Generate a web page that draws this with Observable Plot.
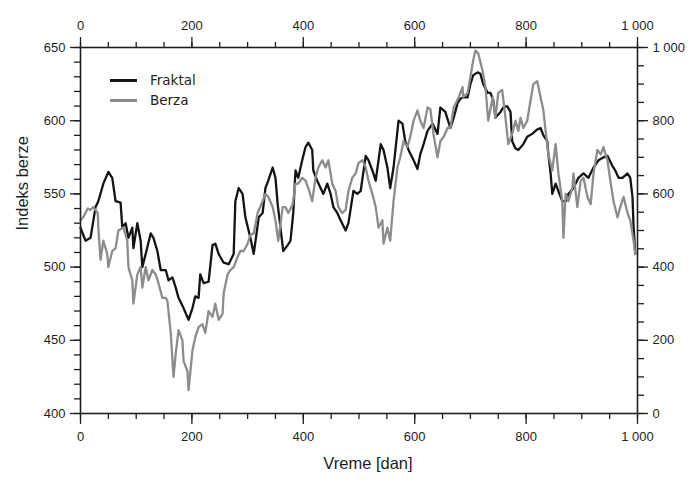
<!DOCTYPE html>
<html>
<head>
<meta charset="utf-8">
<script src="https://cdn.jsdelivr.net/npm/d3@7"></script>
<script src="https://cdn.jsdelivr.net/npm/@observablehq/plot@0.6"></script>
<style>
  html, body { margin: 0; padding: 0; background: #fff; }
  #wrap { position: relative; width: 695px; height: 481px; }
  #legend { position: absolute; left: 110px; top: 70px; font-family: "DejaVu Sans", sans-serif; font-size: 13.5px; color: #222; }
  #legend .row { display: flex; align-items: center; height: 20px; }
  #legend .sw { width: 27px; height: 3px; margin-right: 13px; }
</style>
</head>
<body>
<div id="wrap"></div>
<script>
// ---- data ----
const seriesNames = ["Fraktal", "Berza"];
const seriesColors = ["#141414", "#8c8c8c"];

const fraktalDays = [0,9,18,27,32,41,50,57,63,72,75,81,86,93,95,102,108,111,117,126,131,138,144,153,158,165,171,176,185,194,201,206,212,215,221,230,237,242,248,257,266,275,278,284,291,296,305,311,320,327,332,337,345,350,354,359,364,372,377,382,386,391,398,404,409,416,418,425,431,436,443,449,454,461,467,476,481,490,497,503,512,517,524,530,539,544,551,556,562,571,578,583,589,598,605,610,616,623,632,641,646,655,664,670,677,682,687,695,700,705,713,718,723,731,736,741,745,754,759,766,772,775,781,786,795,802,811,820,826,831,838,840,844,847,853,858,865,871,876,885,894,903,912,921,930,939,946,955,960,966,973,982,987,991,993,996];
const fraktalValues = [527,518,520,541,545,557,565,561,545,544,527,530,520,527,513,530,518,500,509,523,520,511,498,498,491,493,486,479,472,464,472,480,479,495,489,490,515,516,509,503,502,509,545,554,550,534,520,509,534,537,554,559,568,561,543,527,511,515,518,537,566,561,573,582,585,580,566,559,554,550,557,550,541,537,532,525,530,552,550,552,576,573,566,559,584,580,568,554,568,600,598,586,580,573,567,577,584,593,598,591,609,606,595,602,612,615,616,616,625,631,633,632,625,619,619,614,602,606,609,610,606,586,581,580,584,589,591,594,595,590,586,577,564,550,557,552,545,545,550,554,561,564,561,568,573,575,576,569,566,561,561,564,561,548,527,509];

const berzaDays = [0,5,13,18,23,31,32,36,41,48,50,57,63,68,77,84,86,93,95,102,108,111,117,122,129,135,140,147,153,156,162,167,171,176,183,185,192,194,201,206,212,219,224,230,237,242,248,255,257,264,269,275,282,287,293,300,305,311,318,327,332,337,345,350,355,363,368,373,381,386,391,398,404,409,416,422,427,434,440,445,452,458,463,470,476,481,488,494,499,506,512,517,524,530,535,542,544,551,556,562,569,574,580,587,592,598,605,610,616,623,628,634,641,646,652,659,664,670,679,686,687,695,700,705,709,714,722,727,732,740,745,750,757,763,768,775,781,786,790,795,802,808,813,820,826,831,835,840,847,853,858,865,867,871,876,883,885,892,898,903,910,916,921,928,934,939,946,952,957,964,969,975,982,987,993,996];
const berzaValues = [532,534,540,539,541,537,527,505,518,509,500,511,513,525,527,518,500,491,475,495,500,486,500,491,498,495,489,479,479,477,455,425,441,457,450,436,429,416,443,452,459,461,455,470,466,475,464,468,482,495,498,500,507,511,511,516,522,523,537,545,550,548,541,532,518,541,541,537,543,557,557,561,559,554,545,561,568,573,568,573,557,552,541,537,539,552,561,564,571,573,568,559,550,541,527,532,516,527,518,545,568,575,586,582,589,600,607,600,595,609,608,590,575,586,589,595,595,609,616,623,616,619,630,641,648,646,634,623,600,616,602,619,621,602,584,591,600,593,602,595,600,614,625,627,616,607,593,577,566,584,564,545,520,550,545,554,564,541,559,561,548,543,564,580,577,582,573,557,545,534,541,548,537,532,518,509];

const xMajorTicks = [0,200,400,600,800,1000];
const xMinorTicks = d3.range(0, 1001, 50);
const yLeftMajorTicks = [400,450,500,550,600,650];
const yLeftMinorTicks = d3.range(400, 651, 10);
const yRightMajorTicks = [0,200,400,600,800,1000];
const yRightMinorTicks = d3.range(0, 1001, 50);
const yRightDomain = [0, 1000];
const yLeftDomain = [400, 650];

// ---- build tables ----
const fraktal = fraktalDays.map((d, i) => ({day: d, value: fraktalValues[i]}));
const berza = berzaDays.map((d, i) => ({day: d, value: berzaValues[i]}));

const fmt = d3.formatLocale({decimal: ",", thousands: "\u00a0", grouping: [3], currency: ["", ""]}).format(",");
// map right-axis values into left-axis units
const toLeft = r => yLeftDomain[0] + (r - yRightDomain[0]) * (yLeftDomain[1] - yLeftDomain[0]) / (yRightDomain[1] - yRightDomain[0]);
const toRight = v => yRightDomain[0] + (v - yLeftDomain[0]) * (yRightDomain[1] - yRightDomain[0]) / (yLeftDomain[1] - yLeftDomain[0]);

const ink = "#1e1e1e";
const chart = Plot.plot({
  width: 695,
  height: 481,
  marginLeft: 80,
  marginRight: 58,
  marginTop: 47,
  marginBottom: 68,
  x: {domain: [0, 1000]},
  y: {domain: yLeftDomain},
  style: {fontFamily: "'Liberation Sans', Arial, sans-serif", fontSize: "13px", color: ink, background: "white"},
  marks: [
    Plot.axisX({anchor: "bottom", ticks: xMinorTicks, tickSize: 6, tickFormat: () => "", label: null, stroke: ink, strokeWidth: 1.3}),
    Plot.axisX({anchor: "bottom", ticks: xMajorTicks, tickSize: 11, tickPadding: 7, tickFormat: fmt, label: null, stroke: ink, strokeWidth: 1.3, fontSize: 13}),
    Plot.axisX({anchor: "top", ticks: xMinorTicks, tickSize: 6, tickFormat: () => "", label: null, stroke: ink, strokeWidth: 1.3}),
    Plot.axisX({anchor: "top", ticks: xMajorTicks, tickSize: 11, tickPadding: 7, tickFormat: fmt, label: null, stroke: ink, strokeWidth: 1.3, fontSize: 13}),
    Plot.axisY({anchor: "left", ticks: yLeftMinorTicks, tickSize: 6, tickFormat: () => "", label: null, stroke: ink, strokeWidth: 1.3}),
    Plot.axisY({anchor: "left", ticks: yLeftMajorTicks, tickSize: 10, tickPadding: 5, tickFormat: d => fmt(d), label: null, stroke: ink, strokeWidth: 1.3, fontSize: 13}),
    Plot.axisY({anchor: "right", ticks: yRightMinorTicks.map(toLeft), tickSize: 6, tickFormat: () => "", label: null, stroke: ink, strokeWidth: 1.3}),
    Plot.axisY({anchor: "right", ticks: yRightMajorTicks.map(toLeft), tickSize: 10, tickPadding: 5, tickFormat: v => fmt(Math.round(toRight(v))), label: null, stroke: ink, strokeWidth: 1.3, fontSize: 13}),
    Plot.line(fraktal, {x: "day", y: "value", stroke: seriesColors[0], strokeWidth: 2.3}),
    Plot.line(berza, {x: "day", y: "value", stroke: seriesColors[1], strokeWidth: 2.3}),
    Plot.frame({stroke: ink, strokeWidth: 1.6}),
    Plot.text(["Indeks berze"], {frameAnchor: "left", dx: -58, rotate: -90, fontSize: 16.5, fill: ink}),
    Plot.text(["Vreme [dan]"], {frameAnchor: "bottom", dx: 9, dy: 55, fontSize: 16.5, fill: ink})
  ]
});

const wrap = document.getElementById("wrap");
wrap.appendChild(chart);
const legend = document.createElement("div");
legend.id = "legend";
seriesNames.forEach((n, i) => {
  const row = document.createElement("div");
  row.className = "row";
  const sw = document.createElement("span");
  sw.className = "sw";
  sw.style.background = seriesColors[i];
  const t = document.createElement("span");
  t.textContent = n;
  row.appendChild(sw);
  row.appendChild(t);
  legend.appendChild(row);
});
wrap.appendChild(legend);
</script>
</body>
</html>
